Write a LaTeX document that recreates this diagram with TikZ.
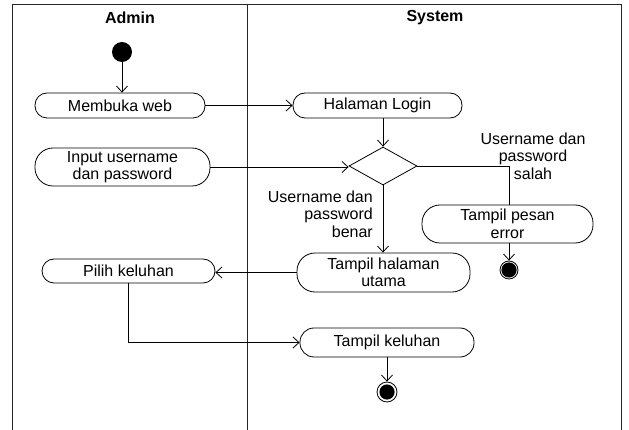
\documentclass[tikz,border=0pt]{standalone}
\usepackage{fontspec}
\setmainfont{Liberation Sans}
\usetikzlibrary{arrows.meta,shapes.geometric}

\tikzset{
  lbl/.style={font=\fontsize{16}{17.5}\selectfont, inner sep=0pt},
  act/.style={draw, line width=0.8pt, lbl, align=center,
    minimum width=#1, rounded corners=12pt},
  actlow/.style={act=#1, minimum height=25pt, rounded corners=12pt},
  acthigh/.style={act=#1, minimum height=38pt, rounded corners=18pt},
  flow/.style={line width=0.8pt, -{Straight Barb[length=6pt,width=11pt]}},
  plain/.style={line width=0.8pt},
  initial/.style={circle, fill=black, minimum size=20pt, inner sep=0pt},
  final/.style={circle, draw, line width=0.8pt, minimum size=20pt, inner sep=0pt,
    path picture={\fill[black] (path picture bounding box.center) circle (7.6pt);}},
  decision/.style={diamond, draw, line width=0.8pt, minimum width=68pt,
    minimum height=38pt, inner sep=0pt},
  lane/.style={line width=1pt, black!85},
  head/.style={font=\fontsize{16}{17.5}\selectfont\bfseries, inner sep=0pt},
}

\begin{document}
\begin{tikzpicture}[x=1pt, y=-1pt]
  \useasboundingbox (0,0) rectangle (629,430);

  % swimlanes
  \draw[lane] (12,430) -- (12,5) -- (621,5) -- (621,430);
  \draw[lane] (247,5) -- (247,430);
  \node[head] (hadmin) at (130,18) {Admin};
  \node[head] (hsys) at (435,18) {System};

  % activities
  \node[initial] (start) at (122,52) {};
  \node[actlow=170pt] (mweb) at (120,105.5) {Membuka web};
  \node[actlow=169pt] (login) at (377.5,105.5) {Halaman Login};
  \node[acthigh=175pt] (input) at (122.5,167) {Input username\\dan password};
  \node[decision] (dec) at (383,166) {};
  \node[acthigh=171pt] (err) at (507.5,224) {Tampil pesan\\error};
  \node[final, minimum size=18pt] (end1) at (509,270) {};
  \node[acthigh=173pt, minimum height=39pt] (main) at (383.5,272.5) {Tampil halaman\\utama};
  \node[actlow=173pt, minimum height=24pt] (pilih) at (128.5,271) {Pilih keluhan};
  \node[actlow=174pt, minimum height=29pt, rounded corners=14pt] (kel) at (387,342.5) {Tampil keluhan};
  \node[final] (end2) at (387,392) {};

  % guard labels
  \node[lbl, align=center] (gsalah) at (533,156) {Username dan\\password\\salah};
  \node[lbl, align=right, anchor=east] (gbenar) at (373,214) {Username dan\\password\\benar};

  % control flow
  \draw[flow] (start.south) -- (start.south |- mweb.north);
  \draw[flow] (mweb.east) -- (login.west);
  \draw[flow] (dec.north |- login.south) -- (dec.north);
  \draw[flow] (input.east) -- (input.east -| dec.west);
  \draw[plain] (dec.east) -| (err.north -| end1.north);
  \draw[flow] (err.south -| end1.north) -- (end1.north);
  \draw[flow] (dec.south) -- (dec.south |- main.north);
  \draw[flow] (main.west) -- (main.west -| pilih.east);
  \draw[flow] (pilih.south) |- (kel.west);
  \draw[flow] (kel.south) -- (end2.north);
\end{tikzpicture}
\end{document}
